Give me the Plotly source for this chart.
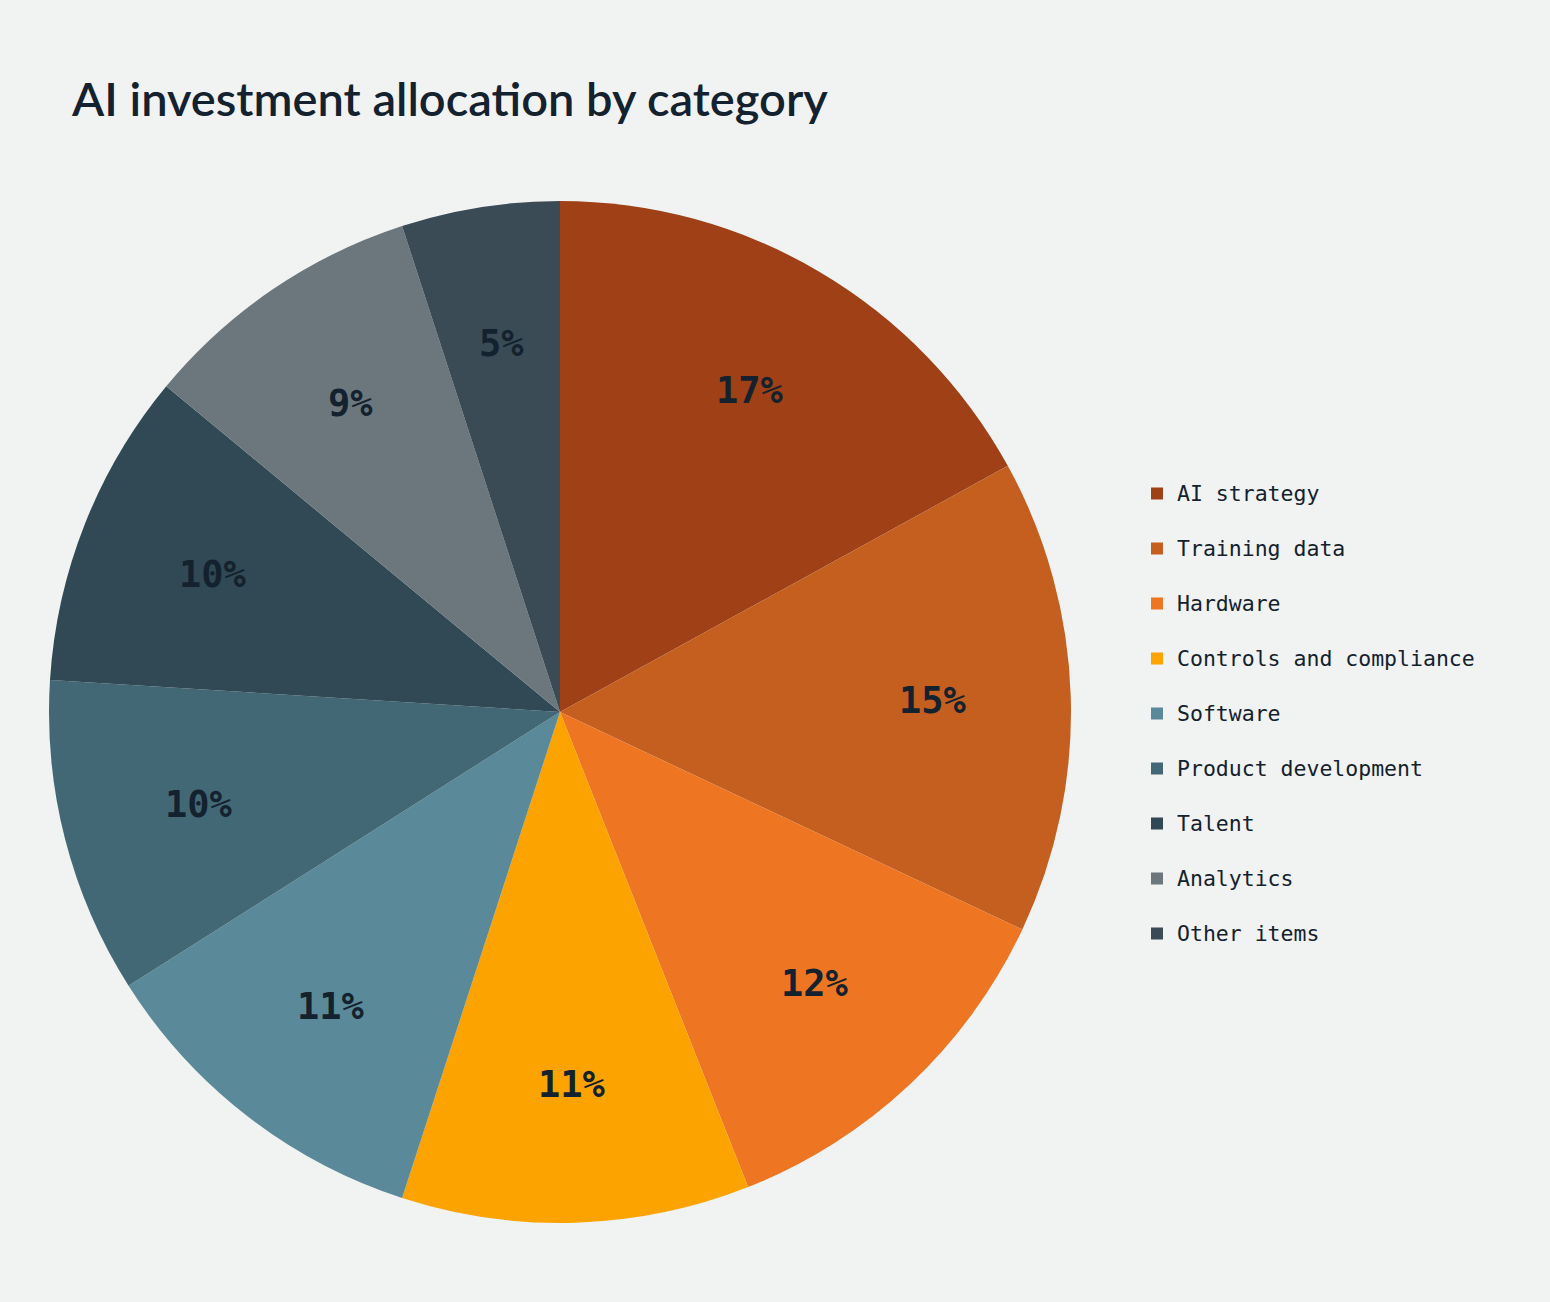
import math
import plotly.graph_objects as go

# AI investment allocation, share of total (%)
categories = ['AI strategy', 'Training data', 'Hardware', 'Controls and compliance',
              'Software', 'Product development', 'Talent', 'Analytics', 'Other items']
shares = [17, 15, 12, 11, 11, 10, 10, 9, 5]

colors = ['#a04016', '#c45f1f', '#ee7623', '#fca300', '#5a8a99',
          '#426875', '#304954', '#6b777d', '#3a4b56']

W, H = 1550, 1302
margin = dict(l=49, r=0, t=201, b=79)
plot_w = W - margin['l'] - margin['r']
plot_h = H - margin['t'] - margin['b']
pie_dom_x = [0, plot_h / plot_w]   # square pie domain on the left

# extra blank line per entry gives the legend its wide row spacing
legend_labels = ["<span style='font-size:21.5px'>%s</span><br> " % c for c in categories]

fig = go.Figure(go.Pie(
    labels=legend_labels,
    values=shares,
    sort=False,
    direction='clockwise',
    rotation=0,
    marker=dict(colors=colors, line=dict(width=0)),
    textinfo='none',
    hoverinfo='skip',
    domain=dict(x=pie_dom_x, y=[0, 1]),
))

# percentage labels at a fixed fraction of the radius, on each slice's mid angle
total = sum(shares)
cx, cy = pie_dom_x[1] / 2, 0.5
rx, ry = pie_dom_x[1] / 2, 0.5
label_r = 0.73
cum = 0
for v in shares:
    ang = 2 * math.pi * (cum + v / 2) / total
    cum += v
    fig.add_annotation(
        x=cx + label_r * rx * math.sin(ang), y=cy + label_r * ry * math.cos(ang),
        xref='paper', yref='paper', xanchor='center', yanchor='middle', showarrow=False,
        text='%d%%' % round(100 * v / total),
        font=dict(family='DejaVu Sans Mono', size=37, color='#13222e', weight='bold'),
    )

fig.update_layout(
    width=W, height=H,
    title=dict(text='AI investment allocation by category', x=72 / W, xanchor='left',
               y=1 - 100 / H, yanchor='middle',
               font=dict(family='Lato', size=47, color='#13222e', weight=600)),
    legend=dict(x=(1137 - margin['l']) / plot_w, xanchor='left',
                y=(plot_h + margin['t'] - 474) / plot_h, yanchor='top',
                valign='top', font=dict(family='DejaVu Sans Mono', size=20, color='#13222e'),
                bgcolor='rgba(0,0,0,0)'),
    margin=margin,
    paper_bgcolor='#f1f2f2',
    plot_bgcolor='#f1f2f2',
    showlegend=True,
)

fig.write_html('out.html', config={'displayModeBar': False},
               post_script="document.body.style.margin='0';")
